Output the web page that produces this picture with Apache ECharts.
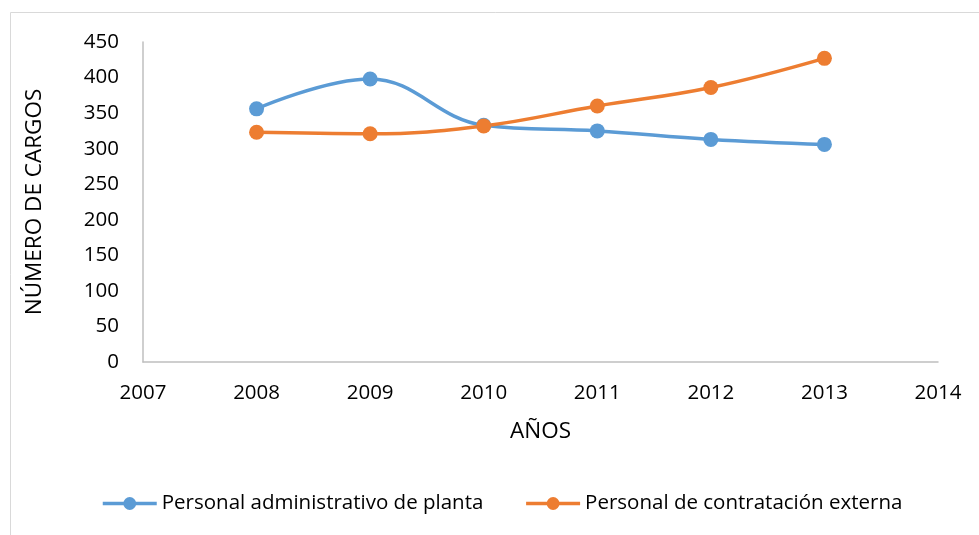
<!DOCTYPE html>
<html>
<head>
<meta charset="utf-8">
<script src="https://cdn.jsdelivr.net/npm/echarts@6/dist/echarts.min.js"></script>
<style>
html, body { margin: 0; padding: 0; background: #fff; }
#chart { width: 979px; height: 535px; }
</style>
</head>
<body>
<div id="chart"></div>
<script>
// values
var years = [2008, 2009, 2010, 2011, 2012, 2013];
var planta = [356, 398, 333, 325, 313, 306];
var externa = [323, 321, 332, 360, 386, 427];
var seriesNames = ['Personal administrativo de planta', 'Personal de contratación externa'];

function pairs(vals) {
    return years.map(function (y, i) { return [y, vals[i]]; });
}

var font = '"Open Sans", "Liberation Sans", sans-serif';
var chart = echarts.init(document.getElementById('chart'));

var option = {
    animation: false,
    textStyle: { fontFamily: font },
    graphic: [{
        type: 'rect',
        shape: { x: 10.5, y: 12.5, width: 1000, height: 600 },
        style: { fill: 'none', stroke: '#d9d9d9', lineWidth: 1 },
        silent: true
    }],
    grid: { left: 143, right: 41, top: 42, bottom: 173 },
    legend: {
        top: 493,
        left: 101,
        padding: 0,
        itemWidth: 54,
        itemHeight: 16,
        itemGap: 41,
        lineStyle: { width: 3.5 },
        textStyle: { fontSize: 20.5, color: '#000', fontFamily: font },
        data: seriesNames
    },
    xAxis: {
        type: 'value',
        min: 2007,
        max: 2014,
        interval: 1,
        name: 'AÑOS',
        nameLocation: 'middle',
        nameGap: 58,
        nameTextStyle: { fontSize: 22.5, color: '#000', fontFamily: font },
        axisLine: { lineStyle: { color: '#bfbfbf', width: 1.5 } },
        axisTick: { show: false },
        splitLine: { show: false },
        axisLabel: {
            fontSize: 20.5, color: '#000', margin: 21,
            formatter: function (v) { return String(v); }
        }
    },
    yAxis: {
        type: 'value',
        min: 0,
        max: 450,
        interval: 50,
        name: 'NÚMERO DE CARGOS',
        nameLocation: 'middle',
        nameGap: 97,
        nameTextStyle: { fontSize: 22.5, color: '#000', fontFamily: font },
        axisLine: { show: true, lineStyle: { color: '#bfbfbf', width: 1.5 } },
        axisTick: { show: false },
        splitLine: { show: false },
        axisLabel: { fontSize: 20.5, color: '#000', margin: 24 }
    },
    series: [
        {
            name: seriesNames[0],
            type: 'line',
            smooth: 0.4,
            symbol: 'circle',
            symbolSize: 15,
            itemStyle: { color: '#5b9bd5' },
            lineStyle: { color: '#5b9bd5', width: 3.5 },
            data: pairs(planta)
        },
        {
            name: seriesNames[1],
            type: 'line',
            smooth: 0.4,
            symbol: 'circle',
            symbolSize: 15,
            itemStyle: { color: '#ed7d31' },
            lineStyle: { color: '#ed7d31', width: 3.5 },
            data: pairs(externa)
        }
    ]
};
chart.setOption(option);
</script>
</body>
</html>
